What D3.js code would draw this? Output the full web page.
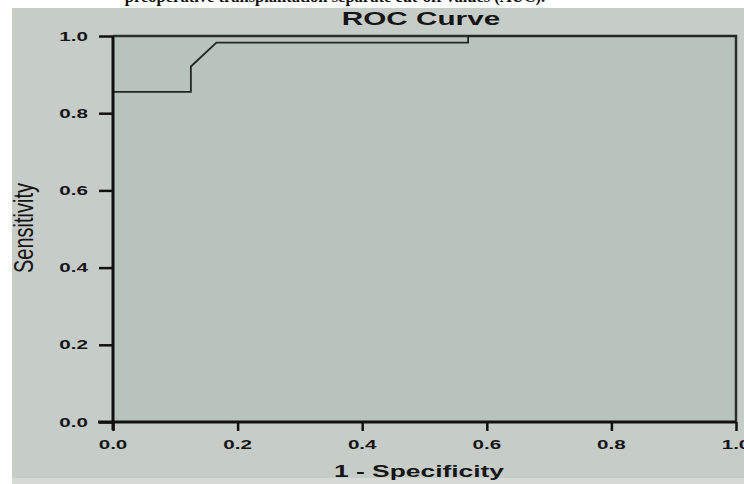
<!DOCTYPE html>
<html><head><meta charset="utf-8">
<script src="https://cdn.jsdelivr.net/npm/d3@7/dist/d3.min.js"></script>
<style>body{margin:0;background:#fff;overflow:hidden}svg{display:block}</style>
</head><body><svg id="c" width="744" height="484"></svg>
<script>
const fpr = [0, 0, 0.125, 0.125, 0.166, 0.570, 0.570, 1.0];
const tpr = [0, 0.855, 0.855, 0.921, 0.983, 0.983, 1.0, 1.0];
const xTicks = [0, 0.2, 0.4, 0.6, 0.8, 1.0];
const yTicks = [0, 0.2, 0.4, 0.6, 0.8, 1.0];
const chartTitle = "ROC Curve";
const xTitle = "1 - Specificity";
const yTitle = "Sensitivity";
const topCaption = "preoperative transplantation separate cut-off values (AUC).";

const SX = 1.65;
const svg = d3.select("#c");
const m = {l:113, r:736, t:36, b:422};
const x = d3.scaleLinear().domain([0,1]).range([m.l, m.r]);
const y = d3.scaleLinear().domain([0,1]).range([m.b, m.t]);

// outer panel
svg.append("rect").attr("x",12).attr("y",8).attr("width",732).attr("height",470).attr("fill","#c6ccc8");
svg.append("rect").attr("x",12).attr("y",478).attr("width",732).attr("height",6).attr("fill","#d6dad7");
// plot area
svg.append("rect").attr("x",m.l).attr("y",m.t).attr("width",m.r-m.l).attr("height",m.b-m.t).attr("fill","#b9c3be");

function stext(tx, ty, str, size, weight, anchor, family, sx){
  return svg.append("text")
    .attr("transform",`translate(${tx},${ty}) scale(${sx||SX},1)`)
    .attr("text-anchor",anchor).attr("font-family",family||"Liberation Sans, Arial, sans-serif")
    .attr("font-size",size).attr("font-weight",weight).attr("fill","#151515").text(str);
}

// top caption (cropped by the page edge, as in the source image)
svg.append("text").attr("x",335).attr("y",2).attr("text-anchor","middle")
  .attr("font-family","Liberation Serif, Times New Roman, serif").attr("font-weight","bold")
  .attr("font-size",16.5).attr("fill","#111").text(topCaption);
svg.append("rect").attr("x",12).attr("y",8).attr("width",732).attr("height",2).attr("fill","#c6ccc8");

// title
stext(421, 25, chartTitle, 18, "bold", "middle");

// top and right border
svg.append("path").attr("d",`M${m.l},${m.t}H${m.r}V${m.b}`).attr("fill","none")
  .attr("stroke","#2b302d").attr("stroke-width",2.5);

// curve
const line = d3.line().x((d,i)=>x(fpr[i])).y((d,i)=>y(tpr[i]));
svg.append("path").datum(fpr).attr("d",line).attr("fill","none")
  .attr("stroke","#222724").attr("stroke-width",1.8);

// axes
const xAxis = d3.axisBottom(x).tickValues(xTicks).tickSize(9).tickFormat(()=>"");
const yAxis = d3.axisLeft(y).tickValues(yTicks).tickSize(14).tickFormat(()=>"");
const gx = svg.append("g").attr("transform",`translate(0,${m.b})`).call(xAxis);
const gy = svg.append("g").attr("transform",`translate(${m.l},0)`).call(yAxis);
[gx,gy].forEach(g=>{
  g.select(".domain").attr("stroke","#111").attr("stroke-width",3);
  g.selectAll(".tick line").attr("stroke","#111").attr("stroke-width",2.5);
});
gy.select(".domain").attr("d",`M0,${m.t}V${m.b+8}`);
gx.select(".domain").attr("d",`M${m.l-15},0H${m.r}`);

const fmt = d3.format(".1f");
xTicks.forEach(v=>stext(x(v), 449, fmt(v), 12.5, "bold", "middle"));
yTicks.forEach(v=>stext(88, y(v)+4.5, fmt(v), 12.5, "bold", "end"));

// axis titles
stext(419, 477, xTitle, 16, "bold", "middle");
svg.append("text").attr("transform",`translate(33,228) scale(1.35,1) rotate(-90)`)
  .attr("text-anchor","middle").attr("font-family","Liberation Sans Narrow, Liberation Sans, Arial, sans-serif")
  .attr("font-size",20).attr("fill","#151515").text(yTitle);
</script></body></html>
